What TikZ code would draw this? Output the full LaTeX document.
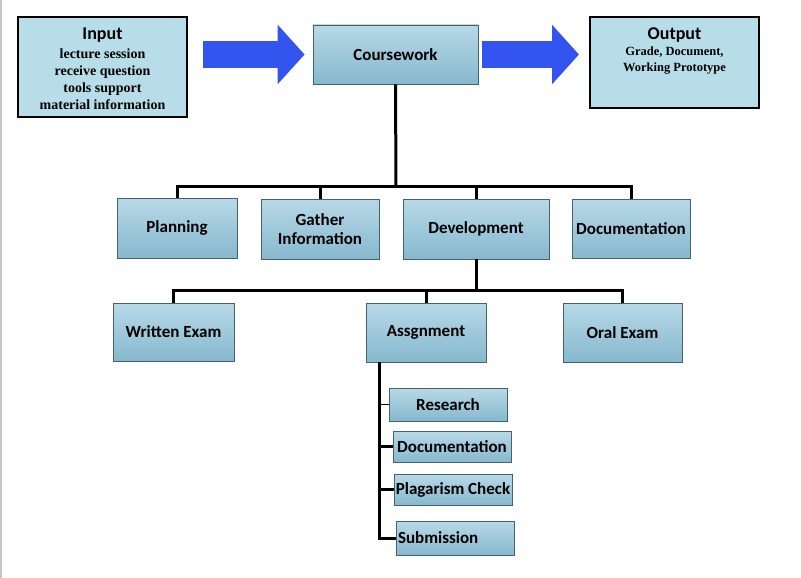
\documentclass[tikz,border=0pt]{standalone}
\usepackage{fontspec}
\setmainfont{Carlito}
\newfontfamily\bodyserif{Liberation Serif}
\usetikzlibrary{arrows.meta}

\definecolor{paleblue}{RGB}{183,222,232}
\definecolor{topblue}{RGB}{184,217,231}
\definecolor{botblue}{RGB}{134,184,206}
\definecolor{edgegray}{RGB}{70,98,112}
\definecolor{arrowblue}{RGB}{52,84,240}

\newcommand\iohead[1]{{\fontsize{18}{21}\selectfont #1}}

\begin{document}
\begin{tikzpicture}[x=1pt, y=-1pt,
    iobox/.style={draw=black, line width=2pt, fill=paleblue, align=center,
                  font=\bodyserif\bfseries\fontsize{14}{17}\selectfont},
    stagebox/.style={draw=edgegray, line width=0.8pt, top color=topblue,
                     bottom color=botblue, align=center,
                     font=\fontsize{17}{19}\selectfont\bfseries},
    taskbox/.style={stagebox, inner sep=1pt, minimum width=118pt},
    link/.style={line width=3pt},
    flowarrow/.style={arrowblue, line width=27pt,
                      -{Triangle[length=27pt, width=58pt]}}]
  \useasboundingbox (0,0) rectangle (801,578);
  \draw[gray!45, line width=1.5pt] (0.75,0) -- (0.75,578);

  % top row
  \node[iobox, minimum width=169pt, minimum height=100pt] (input) at (102.5,67) {};
  \node[align=center, font=\bodyserif\bfseries\fontsize{14}{17}\selectfont] (intext) at (102.5,69)
      {\iohead{\normalfont\bfseries Input}\\[2pt] lecture session\\ receive question\\
       tools support\\ material information};
  \node[stagebox, minimum width=165pt, minimum height=59pt] (course) at (395.5,54.5) {Coursework};
  \node[iobox, minimum width=169pt, minimum height=91pt] (output) at (674.5,62.5) {};
  \node[align=center, anchor=north, inner sep=4pt,
        font=\bodyserif\bfseries\fontsize{12.5}{16}\selectfont] (outtext) at ([yshift=-7pt]output.north)
      {\iohead{\normalfont\bfseries Output}\\ Grade, Document,\\ Working Prototype};

  \draw[flowarrow, yshift=-2pt, shorten <=15pt, shorten >=8pt] (input.east |- course.west) -- (course.west);
  \draw[flowarrow, yshift=-2pt, shorten <=4pt, shorten >=10pt] (course.east) -- (course.east -| output.west);

  % stages
  \node[stagebox, minimum width=120pt, minimum height=60pt] (plan) at (177,228) {Planning};
  \node[stagebox, minimum width=118pt, minimum height=60pt] (gather) at (320,229) {Gather\\Information};
  \node[stagebox, minimum width=146pt, minimum height=60pt] (dev) at (476,229) {Development};
  \node[stagebox, minimum width=118pt, minimum height=59pt] (doc) at (631,228.5) {Documentation};

  \node[stagebox, minimum width=121pt, minimum height=58pt] (written) at (173.5,332) {Written Exam};
  \node[stagebox, minimum width=120pt, minimum height=59pt] (assign) at (426,332.5) {Assgnment};
  \node[stagebox, minimum width=119pt, minimum height=59pt] (oral) at (622.5,332.5) {Oral Exam};

  % assignment tasks
  \node[taskbox, minimum height=33pt] (research) at (448,404.5) {Research};
  \node[taskbox, minimum height=31pt] (subdoc) at (452,446.5) {Documentation};
  \node[taskbox, minimum height=31pt] (plag) at (453,489.5) {Plagarism Check};
  \node[taskbox, minimum height=34pt, text width=115pt, align=left] (submit) at (455.5,538) {Submission};

  % tree lines
  \coordinate (hub1) at (396,186);
  \draw[link] (course.south) -- (hub1);
  \foreach \n in {plan,gather,dev,doc} {
      \draw[link] (hub1) -| (\n.north);
  }

  \coordinate (hub2) at (476,290);
  \draw[link] (dev.south) -- (hub2);
  \foreach \n in {written,assign,oral} {
      \draw[link] (hub2) -| (\n.north);
  }

  \coordinate (trunk) at ([xshift=14pt]assign.south west);
  \draw[link] (trunk) |- (submit.west);
  \foreach \n/\w in {research/0.8pt, subdoc/3pt, plag/3pt} {
      \draw[line width=\w] (trunk) |- (\n.west);
  }
\end{tikzpicture}
\end{document}
